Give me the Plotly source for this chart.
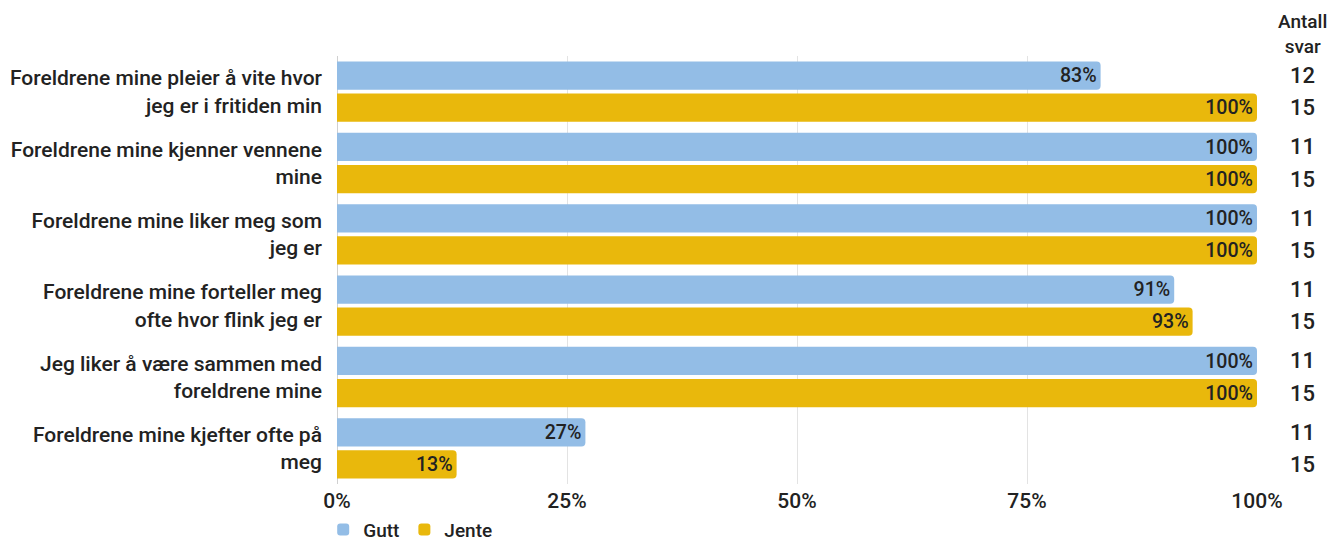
import plotly.graph_objects as go

categories = [
    "Foreldrene mine pleier å vite hvor<br>jeg er i fritiden min",
    "Foreldrene mine kjenner vennene<br>mine",
    "Foreldrene mine liker meg som<br>jeg er",
    "Foreldrene mine forteller meg<br>ofte hvor flink jeg er",
    "Jeg liker å være sammen med<br>foreldrene mine",
    "Foreldrene mine kjefter ofte på<br>meg",
]
gutt = [83, 100, 100, 91, 100, 27]
jente = [100, 100, 100, 93, 100, 13]
gutt_n = [12, 11, 11, 11, 11, 11]
jente_n = [15, 15, 15, 15, 15, 15]
x_ticks = [0, 25, 50, 75, 100]

BLUE = "#93bde6"
YELLOW = "#e9b80c"
TEXT = "#222222"
FONT = "Roboto"

fig = go.Figure()
for name, vals, col in [("Gutt", gutt, BLUE), ("Jente", jente, YELLOW)]:
    fig.add_trace(go.Bar(
        name=name, y=categories, x=vals, orientation="h",
        marker=dict(color=col, line=dict(width=0)),
        text=[f"{v}%" for v in vals], textposition="inside",
        insidetextanchor="end",
        textfont=dict(color=TEXT, size=22, family=FONT, weight=500),
    ))

# Antall svar column
ann = [
    dict(text="Antall<br>svar", xref="paper", yref="paper", x=1.049, y=0.99,
         xanchor="center", yanchor="bottom", showarrow=False,
         font=dict(size=19, color=TEXT, family=FONT, weight=500)),
]
for i, (g, j) in enumerate(zip(gutt_n, jente_n)):
    for n, off in [(g, -0.225), (j, 0.225)]:
        ann.append(dict(text=str(n), xref="paper", yref="y", x=1.049, y=i + off,
                        xanchor="center", yanchor="middle", showarrow=False,
                        font=dict(size=22, color=TEXT, family=FONT, weight=500)))

fig.update_layout(
    barmode="group",
    bargap=0.1,
    bargroupgap=0.12,
    barcornerradius=4,
    plot_bgcolor="white",
    paper_bgcolor="white",
    width=1326, height=534,
    margin=dict(l=329, r=77, t=48, b=58, autoexpand=False),
    font=dict(family=FONT, color=TEXT, size=21),
    annotations=ann,
    legend=dict(orientation="h", x=-0.015, y=-0.062, xanchor="left", yanchor="top",
                font=dict(size=19, family=FONT, weight=500),
                itemwidth=30, tracegroupgap=0),
    showlegend=True,
)
fig.update_xaxes(
    range=[0, 100], tickvals=x_ticks, ticktext=[f"{t}%" for t in x_ticks],
    showgrid=True, gridcolor="#e3e3e3", gridwidth=1,
    zeroline=True, zerolinecolor="#d0d0d0", zerolinewidth=1,
    tickfont=dict(size=21, family=FONT, weight=500), ticks="", ticklabelstandoff=2,
)
fig.update_yaxes(
    autorange="reversed", showgrid=False, ticks="",
    tickfont=dict(size=21, family=FONT, weight=500), ticklabelstandoff=14,
)

fig.write_html("out.html")
